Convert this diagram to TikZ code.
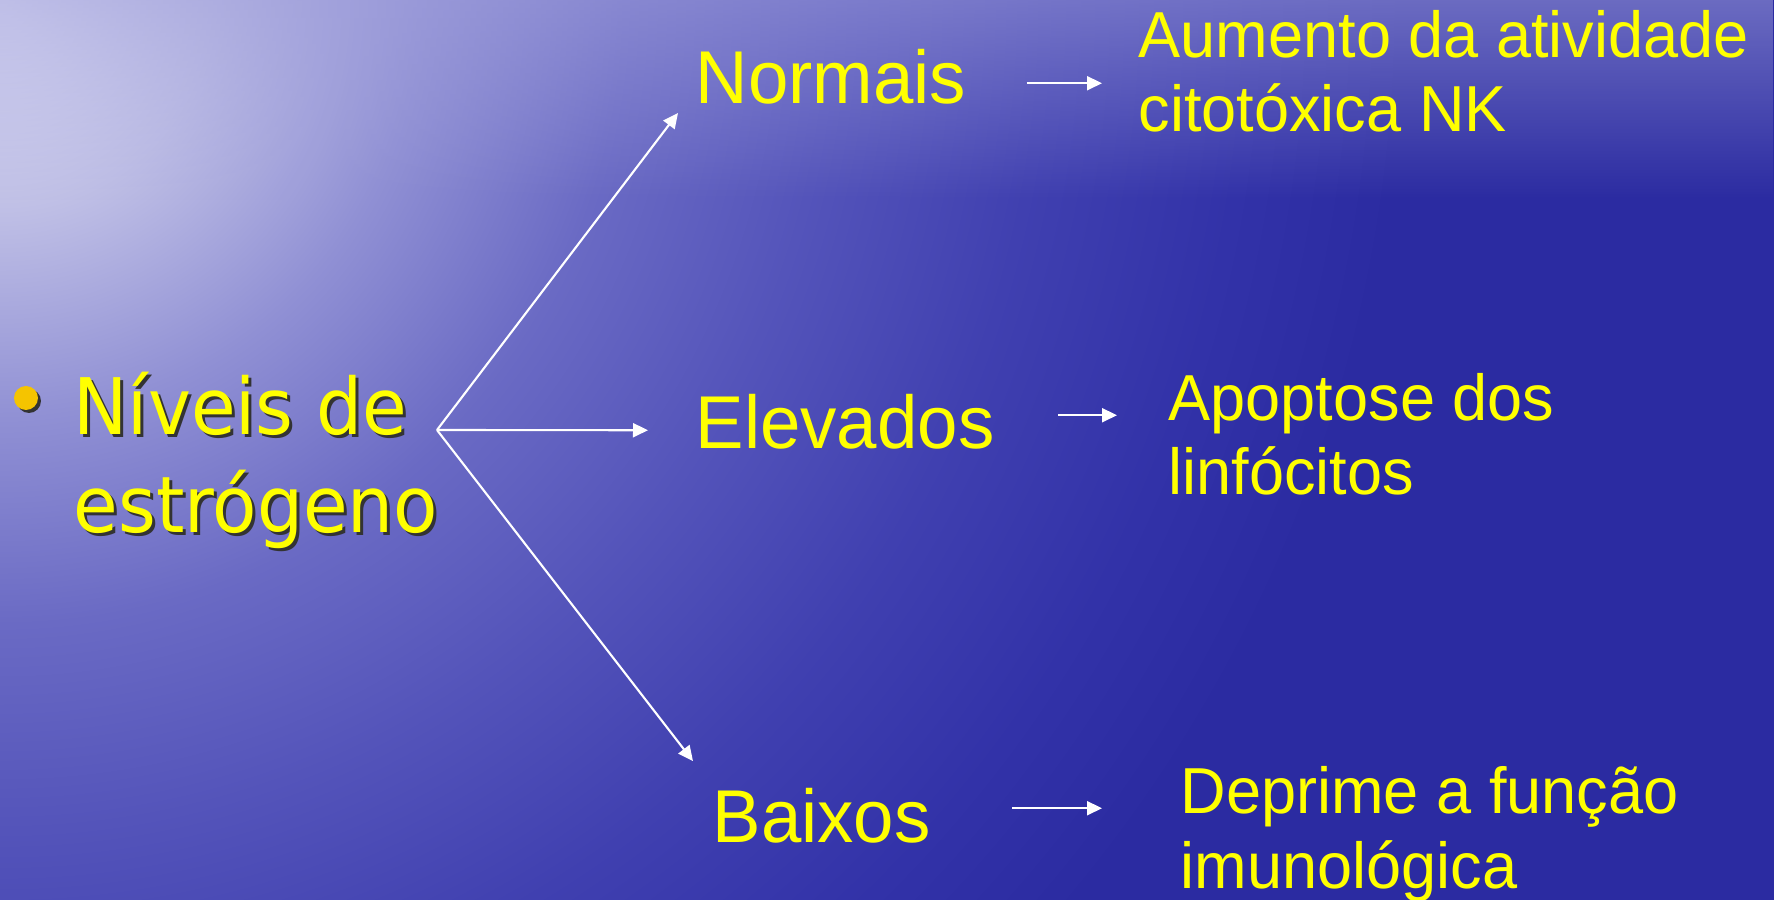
\documentclass[tikz,border=0pt]{standalone}
\usepackage{fontspec}
\usepackage{tikz}
\usetikzlibrary{calc,positioning,arrows.meta,fadings}
\newfontfamily\leadfont{DejaVu Sans}[FakeStretch=0.93]
\newfontfamily\labelfont{Liberation Sans}[FakeStretch=0.97]

\definecolor{slideyellow}{HTML}{FFFF00}
\definecolor{bulletgold}{HTML}{F5C400}
\definecolor{glarelight}{HTML}{E4E4F6}
\definecolor{glarepale}{HTML}{C0C0E6}
\definecolor{glaresoft}{HTML}{9090D4}
\definecolor{glaremid}{HTML}{6A6AC4}
\definecolor{glareblue}{HTML}{5454BA}
\definecolor{glaredeep}{HTML}{4040B0}
\definecolor{glaredark}{HTML}{3232A8}
\definecolor{glarenight}{HTML}{2B2BA1}
\definecolor{skyhaze}{HTML}{A0A0DC}
\pgfdeclareradialshading{glare}{\pgfpoint{0bp}{0bp}}{color(0bp)=(glarelight); color(2.9bp)=(glarepale); color(5.9bp)=(glaresoft); color(8.8bp)=(glaremid); color(11.7bp)=(glareblue); color(14.7bp)=(glaredeep); color(17.6bp)=(glaredark); color(19.8bp)=(glarenight); color(50bp)=(glarenight)}
\tikzfading[name=hazedown, top color=transparent!45, bottom color=transparent!100]

\begin{document}
\begin{tikzpicture}[
        lead/.style={font=\leadfont\fontsize{22.2}{27.9}\selectfont, text=slideyellow, align=left, inner sep=0pt, anchor=base west},
        level/.style={font=\labelfont\fontsize{21.3}{25.6}\selectfont, text=slideyellow, inner sep=0pt, anchor=base west},
        effect/.style={font=\labelfont\fontsize{18.5}{21.3}\selectfont, text=slideyellow, align=left, inner sep=0pt, anchor=base west},
        dot/.style={circle, fill=bulletgold, minimum size=2.4mm, inner sep=0pt},
        branch/.style={-{Triangle[length=1.5mm, width=1.4mm]}, draw=white, line width=0.6pt},
        pointer/.style={branch}
    ]

    % Background
    \useasboundingbox (0,0) rectangle (17.74,9);
    \begin{scope}
        \clip (0,0) rectangle (17.74,9);
        \shade[shading=glare] (-17.74,-8.74) rectangle (17.74,26.74);
        \fill[skyhaze, path fading=hazedown] (0,7.0) rectangle (17.74,9);
    \end{scope}

    % Bullet
    \node[dot, fill=black!80] (bulletshadow) at (0.29,4.99) {};
    \node[dot] (bullet) at (0.26,5.02) {};

    % Estrogen levels (base = last line)
    \node[lead, text=black!80] (leadshadow) at (0.76,3.64) {Níveis de\\estrógeno};
    \node[lead] (lead) at (0.73,3.67) {Níveis de\\estrógeno};
    \coordinate (fork) at (4.37,4.70);

    % Levels
    \node[level] (normais) at (6.95,7.96) {Normais};
    \node[level] (elevados) at (6.95,4.51) {Elevados};
    \node[level] (baixos) at (7.12,0.58) {Baixos};

    % Effects (base = last line)
    \node[effect] (aumento) at (11.38,7.68) {Aumento da atividade\\citotóxica NK};
    \node[effect] (apoptose) at (11.68,4.05) {Apoptose dos\\linfócitos};
    \node[effect] (deprime) at (11.80,0.12) {Deprime a função\\imunológica};

    % Branch arrows
    \draw[branch] (fork) -- ([shift={(-0.17,-0.09)}]normais.base west);
    \draw[branch] (fork) -- ([shift={(-0.47,-0.08)}]elevados.west);
    \draw[branch] (fork) -- ([shift={(-0.19,0.26)}]baixos.north west);

    % Effect arrows
    \draw[pointer] ([xshift=6mm,yshift=-0.6mm]normais.east) -- ([xshift=-3.6mm,yshift=-0.6mm]normais.east -| aumento.west);
    \draw[pointer] ([xshift=6.3mm,yshift=0.7mm]elevados.east) -- ([xshift=-5.1mm,yshift=0.7mm]elevados.east -| apoptose.west);
    \draw[pointer] ([xshift=8.1mm,yshift=0.7mm]baixos.east) -- ([xshift=-7.8mm,yshift=0.7mm]baixos.east -| deprime.west);

\end{tikzpicture}
\end{document}
